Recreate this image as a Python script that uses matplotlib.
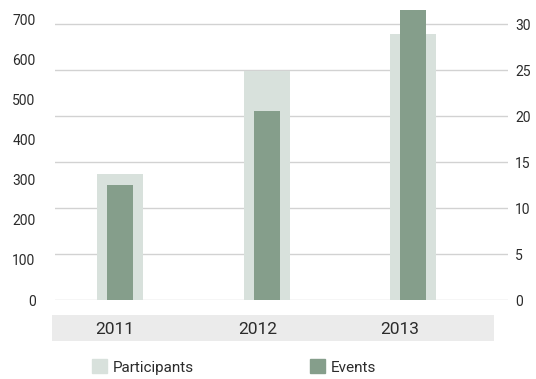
import matplotlib
matplotlib.use('Agg')
import matplotlib.pyplot as plt
from matplotlib.patches import Patch

years = ['2011', '2012', '2013']
participants = [315, 572, 664]
events = [12.5, 20.5, 31.5]
left_ticks = [0, 100, 200, 300, 400, 500, 600, 700]
right_ticks = [0, 5, 10, 15, 20, 25, 30]

light = '#d8e1dc'
dark = '#859e8b'
grid_col = '#d2d2d2'
text_col = '#2b2b2b'

plt.rcParams['font.family'] = ['Roboto', 'DejaVu Sans']

W, H = 536, 379
fig = plt.figure(figsize=(W / 100, H / 100), dpi=100)
rect = [55 / W, 79 / H, 453 / W, 295 / H]
xlim = (-0.444, 2.648)
x = list(range(len(years)))

# bottom layer: gridlines from the right-hand (events) scale
ax_g = fig.add_axes(rect)
ax_g.set_xlim(*xlim)
ax_g.set_ylim(0, 30 * 295 / 276)
ax_g.set_yticks(right_ticks)
ax_g.set_xticks([])
ax_g.grid(axis='y', color=grid_col, lw=1)
for s in ax_g.spines.values():
    s.set_visible(False)

# participants on left scale
ax_p = ax_g.twinx()
ax_p.set_xlim(*xlim)
ax_p.set_ylim(0, 295 / 0.401)
ax_p.bar(x, participants, width=0.314, color=light)
ax_p.yaxis.tick_left()
ax_p.set_yticks(left_ticks)
ax_p.tick_params(axis='y', length=0, pad=14, labelsize=10, labelcolor=text_col)
ax_p.set_xticks([])
for s in ax_p.spines.values():
    s.set_visible(False)

# events on right scale
ax_e = ax_g.twinx()
ax_e.set_xlim(*xlim)
ax_e.set_ylim(ax_g.get_ylim())
ax_e.bar(x, events, width=0.177, color=dark)
ax_e.set_yticks([])
ax_e.set_xticks([])
for s in ax_e.spines.values():
    s.set_visible(False)

# twinx moves the base ticks to the left, put them back on the right
ax_g.yaxis.tick_right()
ax_g.tick_params(axis='y', length=0, pad=5, labelsize=10, labelcolor=text_col)

# grey band with the year labels
ax_b = fig.add_axes([52 / W, (H - 341) / H, 442 / W, 26 / H])
ax_b.set_facecolor('#ebebeb')
ax_b.set_xlim(-0.442, 2.66)
ax_b.set_ylim(0, 1)
for i, y in enumerate(years):
    ax_b.text(i, 0.45, y, ha='center', va='center', fontsize=12.5, color=text_col)
ax_b.set_xticks([])
ax_b.set_yticks([])
for s in ax_b.spines.values():
    s.set_visible(False)

handles = [Patch(color=light, label='Participants'), Patch(color=dark, label='Events')]
fig.legend(handles=handles, loc='center left', bbox_to_anchor=(92 / W, 1 - 367 / H),
           ncol=2, frameon=False, fontsize=11, handlelength=1.0, handleheight=1.0,
           handletextpad=0.35, columnspacing=7.6, borderpad=0, borderaxespad=0,
           labelcolor=text_col)

fig.savefig('out.png', dpi=100)
